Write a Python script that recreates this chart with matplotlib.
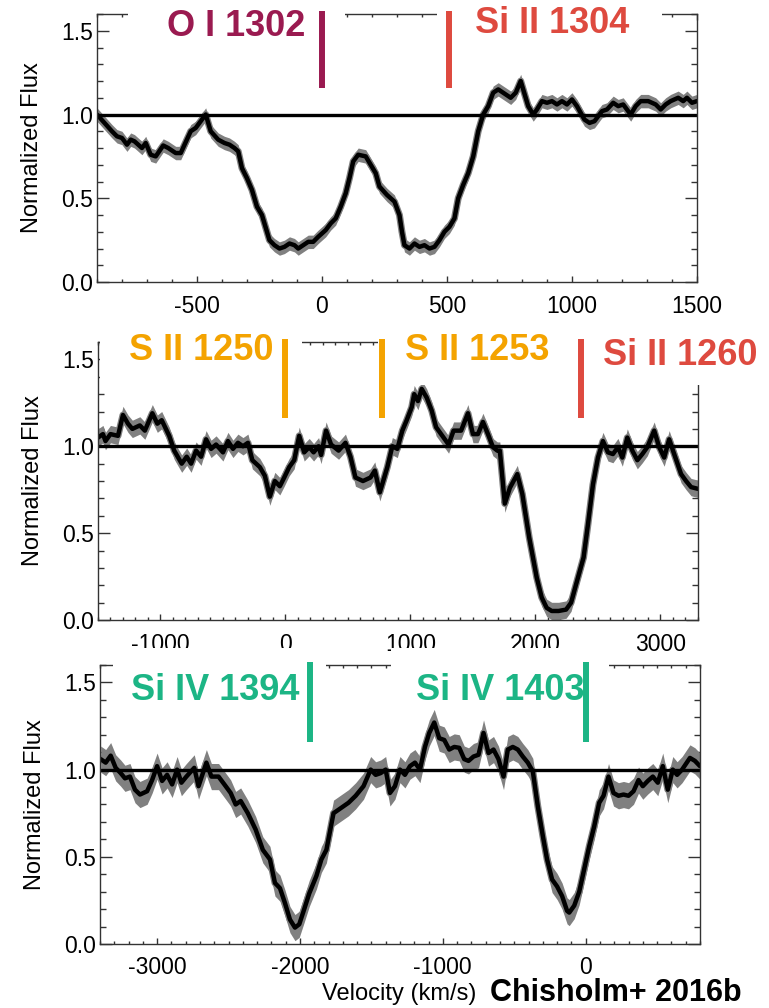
import matplotlib
matplotlib.use("Agg")
import matplotlib.pyplot as plt
from matplotlib.patches import Rectangle
from matplotlib.ticker import MultipleLocator, FormatStrFormatter

plt.rcParams['font.family'] = ['Liberation Sans', 'DejaVu Sans']
plt.rcParams['axes.unicode_minus'] = False

# ---- panel 1: O I 1302 / Si II 1304
v1 = [-900, -840, -820, -800, -780, -765, -750, -720, -705, -685, -665, -635, -615, -585, -565,
      -525, -505, -465, -445, -415, -390, -370, -350, -335, -320, -300, -280, -260, -240, -220,
      -210, -190, -170, -150, -130, -110, -95, -75, -55, -35, -15, 15, 35, 55, 75, 95, 110, 125,
      145, 175, 195, 215, 230, 260, 290, 310, 320, 330, 350, 370, 390, 410, 430, 450, 470, 490,
      510, 530, 545, 565, 585, 605, 625, 645, 665, 685, 705, 725, 755, 775, 795, 805, 825, 845,
      860, 880, 900, 920, 940, 960, 980, 1000, 1020, 1050, 1070, 1090, 1120, 1140, 1165, 1185,
      1205, 1225, 1235, 1255, 1275, 1305, 1335, 1355, 1375, 1395, 1425, 1445, 1460, 1480, 1500]
f1 = [1.00, 0.90, 0.87, 0.86, 0.82, 0.85, 0.84, 0.80, 0.83, 0.76, 0.75, 0.815, 0.80, 0.77, 0.77,
      0.90, 0.92, 1.00, 0.90, 0.85, 0.83, 0.82, 0.80, 0.78, 0.68, 0.62, 0.55, 0.45, 0.40, 0.30,
      0.25, 0.22, 0.20, 0.21, 0.23, 0.22, 0.20, 0.22, 0.24, 0.24, 0.27, 0.31, 0.35, 0.38, 0.45,
      0.53, 0.62, 0.72, 0.76, 0.75, 0.70, 0.65, 0.57, 0.52, 0.48, 0.40, 0.30, 0.22, 0.20, 0.23,
      0.21, 0.22, 0.20, 0.21, 0.25, 0.30, 0.33, 0.38, 0.50, 0.58, 0.65, 0.75, 0.90, 1.00, 1.05,
      1.13, 1.15, 1.13, 1.10, 1.13, 1.20, 1.15, 1.05, 1.00, 1.03, 1.08, 1.07, 1.08, 1.06, 1.08,
      1.06, 1.09, 1.05, 0.97, 0.95, 0.96, 1.02, 1.03, 1.07, 1.05, 1.06, 1.02, 1.00, 1.05, 1.08,
      1.08, 1.06, 1.03, 1.06, 1.08, 1.10, 1.08, 1.10, 1.07, 1.08]
err1 = 0.04

# ---- panel 2: S II 1250 / S II 1253 / Si II 1260
v2 = [-1500, -1460, -1440, -1400, -1340, -1300, -1260, -1225, -1165, -1125, -1065, -1025, -990,
      -930, -890, -830, -790, -755, -715, -675, -635, -595, -555, -500, -460, -420, -380, -340,
      -300, -265, -205, -165, -125, -85, -45, -10, 30, 70, 110, 150, 190, 225, 265, 285, 325, 365,
      425, 480, 520, 560, 620, 680, 715, 755, 815, 855, 895, 935, 970, 1010, 1030, 1060, 1090,
      1130, 1170, 1205, 1245, 1305, 1345, 1405, 1460, 1500, 1540, 1580, 1620, 1660, 1695, 1715,
      1755, 1795, 1855, 1895, 1950, 2010, 2050, 2090, 2130, 2185, 2245, 2285, 2325, 2385, 2420,
      2460, 2500, 2540, 2580, 2620, 2660, 2695, 2735, 2775, 2815, 2855, 2895, 2950, 2990, 3030,
      3070, 3110, 3165, 3205, 3245, 3300]
f2 = [1.05, 1.07, 1.03, 1.07, 1.06, 1.18, 1.13, 1.10, 1.12, 1.09, 1.19, 1.13, 1.15, 1.06, 0.975,
      0.90, 0.94, 0.90, 0.975, 0.94, 1.04, 0.985, 1.01, 0.965, 1.03, 0.985, 1.02, 1.00, 1.02,
      0.92, 0.88, 0.83, 0.71, 0.80, 0.77, 0.82, 0.88, 0.92, 1.06, 0.965, 0.995, 0.965, 1.00, 0.95,
      1.09, 1.01, 0.975, 1.02, 0.94, 0.82, 0.80, 0.82, 0.86, 0.735, 0.88, 1.00, 0.985, 1.09, 1.15,
      1.225, 1.30, 1.26, 1.33, 1.28, 1.205, 1.11, 1.07, 1.01, 1.09, 1.09, 1.19, 1.07, 1.07, 1.14,
      1.07, 0.995, 0.975, 0.975, 0.67, 0.76, 0.84, 0.725, 0.475, 0.245, 0.13, 0.07, 0.052, 0.052,
      0.06, 0.10, 0.205, 0.36, 0.55, 0.78, 0.935, 1.03, 0.965, 0.955, 0.995, 0.935, 1.05, 0.975,
      0.92, 0.955, 0.995, 1.09, 0.995, 0.935, 1.04, 0.955, 0.84, 0.80, 0.765, 0.755]
err2 = 0.05

# ---- panel 3: Si IV 1394 / Si IV 1403
v3 = [-3395, -3360, -3325, -3290, -3255, -3225, -3190, -3155, -3120, -3070, -3035, -3000, -2965,
      -2930, -2895, -2860, -2830, -2795, -2740, -2710, -2655, -2620, -2570, -2520, -2485, -2450,
      -2415, -2365, -2310, -2260, -2210, -2175, -2140, -2105, -2070, -2035, -2005, -1970, -1935,
      -1885, -1850, -1815, -1765, -1730, -1695, -1660, -1610, -1555, -1505, -1470, -1435, -1400,
      -1370, -1335, -1300, -1265, -1230, -1195, -1160, -1125, -1095, -1060, -1025, -990, -955,
      -920, -885, -850, -820, -785, -750, -715, -680, -645, -610, -575, -545, -510, -475, -440,
      -405, -370, -335, -300, -270, -235, -200, -165, -130, -115, -80, -45, -10, 25, 60, 95, 125,
      160, 195, 230, 265, 300, 335, 370, 400, 435, 470, 505, 540, 575, 610, 640, 675, 730, 765, 800]
f3 = [1.06, 1.04, 1.08, 1.01, 0.98, 0.95, 0.96, 0.885, 0.857, 0.876, 0.94, 1.02, 0.935, 0.97,
      0.915, 1.00, 0.925, 0.96, 1.01, 0.905, 1.04, 0.96, 0.96, 0.905, 0.866, 0.80, 0.82, 0.75,
      0.656, 0.54, 0.485, 0.35, 0.32, 0.235, 0.14, 0.094, 0.113, 0.20, 0.29, 0.39, 0.485, 0.54,
      0.75, 0.77, 0.79, 0.81, 0.85, 0.905, 1.00, 0.97, 0.98, 1.00, 0.866, 0.905, 1.00, 0.97, 1.02,
      1.04, 1.00, 1.13, 1.21, 1.27, 1.18, 1.17, 1.115, 1.13, 1.125, 1.06, 1.05, 1.075, 1.085, 1.21,
      1.095, 1.115, 1.06, 0.96, 1.115, 1.13, 1.115, 1.075, 1.04, 0.99, 0.79, 0.62, 0.485, 0.37,
      0.33, 0.275, 0.19, 0.18, 0.22, 0.30, 0.43, 0.56, 0.675, 0.81, 0.85, 0.96, 0.866, 0.85,
      0.857, 0.85, 0.876, 0.94, 0.905, 0.935, 0.96, 0.925, 1.02, 0.885, 1.00, 0.97, 1.00, 1.067,
      1.05, 1.02]
err3 = 0.075

# line identifications: (name, velocity, colour)
ions1 = [("O I 1302", 0, "#9a1a50"), ("Si II 1304", 507, "#de4a3f")]
ions2 = [("S II 1250", 0, "#f4a300"), ("S II 1253", 774, "#f4a300"), ("Si II 1260", 2361, "#de4a3f")]
ions3 = [("Si IV 1394", -1927, "#1cb585"), ("Si IV 1403", 0, "#1cb585")]

xlims = [(-900, 1500), (-1500, 3300), (-3400, 800)]
xmajor = [500, 1000, 1000]

fig = plt.figure(figsize=(7.69, 10.08), dpi=100)
positions = [[0.1261, 0.7202, 0.7802, 0.2659],
             [0.1274, 0.3849, 0.7802, 0.2758],
             [0.1300, 0.0635, 0.7802, 0.2768]]

# label placement: text centre x (axes frac), baseline y (axes frac)
label_xy = [[(0.232, 0.918), (0.758, 0.929)],
            [(0.172, 0.935), (0.632, 0.935), (0.970, 0.917)],
            [(0.192, 0.875), (0.667, 0.875)]]
# white boxes hiding the frame behind the labels (axes frac: x0, x1, y0, y1)
boxes = [[(0.052, 0.413, 0.88, 1.06), (0.567, 0.942, 0.88, 1.06)],
         [(0.003, 0.340, 0.845, 1.08), (0.467, 0.800, 0.845, 1.08), (0.800, 1.12, 0.845, 1.08)],
         [(0.022, 0.377, 0.846, 1.06), (0.485, 0.848, 0.846, 1.06)]]

data = [(v1, f1, err1, ions1), (v2, f2, err2, ions2), (v3, f3, err3, ions3)]

for i, (v, f, e, ions) in enumerate(data):
    ax = fig.add_axes(positions[i])
    lo = [y - e for y in f]
    hi = [y + e for y in f]
    ax.fill_between(v, lo, hi, color="#808080", lw=0, zorder=1.8)
    ax.plot(v, f, color="#808080", lw=5, solid_joinstyle="round", zorder=1.9)
    ax.plot(v, f, color="black", lw=3.2, solid_joinstyle="round", solid_capstyle="round", zorder=2.2)
    ax.axhline(1.0, color="black", lw=2.4, zorder=2.1)
    ax.set_xlim(*xlims[i])
    ax.set_ylim(0.0, 1.6)

    ax.xaxis.set_major_locator(MultipleLocator(xmajor[i]))
    ax.xaxis.set_minor_locator(MultipleLocator(100))
    ax.yaxis.set_major_locator(MultipleLocator(0.5))
    ax.yaxis.set_minor_locator(MultipleLocator(0.1))
    ax.yaxis.set_major_formatter(FormatStrFormatter("%.1f"))
    ax.tick_params(which="both", direction="in", top=True, right=True,
                   color="#333333", width=1.0, labelsize=16.5)
    ax.tick_params(axis="x", which="major", length=4.5, pad=9)
    ax.tick_params(axis="x", which="minor", length=2.5)
    ax.tick_params(axis="y", which="major", length=8.6, pad=3)
    ax.tick_params(axis="y", which="minor", length=4.5)
    for s in ax.spines.values():
        s.set_color("#333333")
        s.set_linewidth(1.0)

    ax.set_ylabel("Normalized Flux", fontsize=17)
    ax.yaxis.set_label_coords(-0.09, 0.5)

    for (x0, x1, y0, y1) in boxes[i]:
        ax.add_patch(Rectangle((x0, y0), x1 - x0, y1 - y0, transform=ax.transAxes,
                               facecolor="white", edgecolor="none", clip_on=False, zorder=3))
    for j, (name, vel, col) in enumerate(ions):
        ax.plot([vel, vel], [1.16, 1.615], color=col, lw=4.3, solid_capstyle="butt",
                clip_on=False, zorder=5)
        tx, ty = label_xy[i][j]
        ax.text(tx, ty, name, transform=ax.transAxes, ha="center", va="baseline",
                fontsize=26, fontweight="bold", color=col, zorder=6)

fig.text(322 / 769, 1 - 1000 / 1008, "Velocity (km/s)", fontsize=17, ha="left", va="baseline")
fig.text(490 / 769, 1 - 1001 / 1008, "Chisholm+ 2016b", fontsize=22, fontweight="bold",
         ha="left", va="baseline")

fig.savefig("out.png", dpi=100)
